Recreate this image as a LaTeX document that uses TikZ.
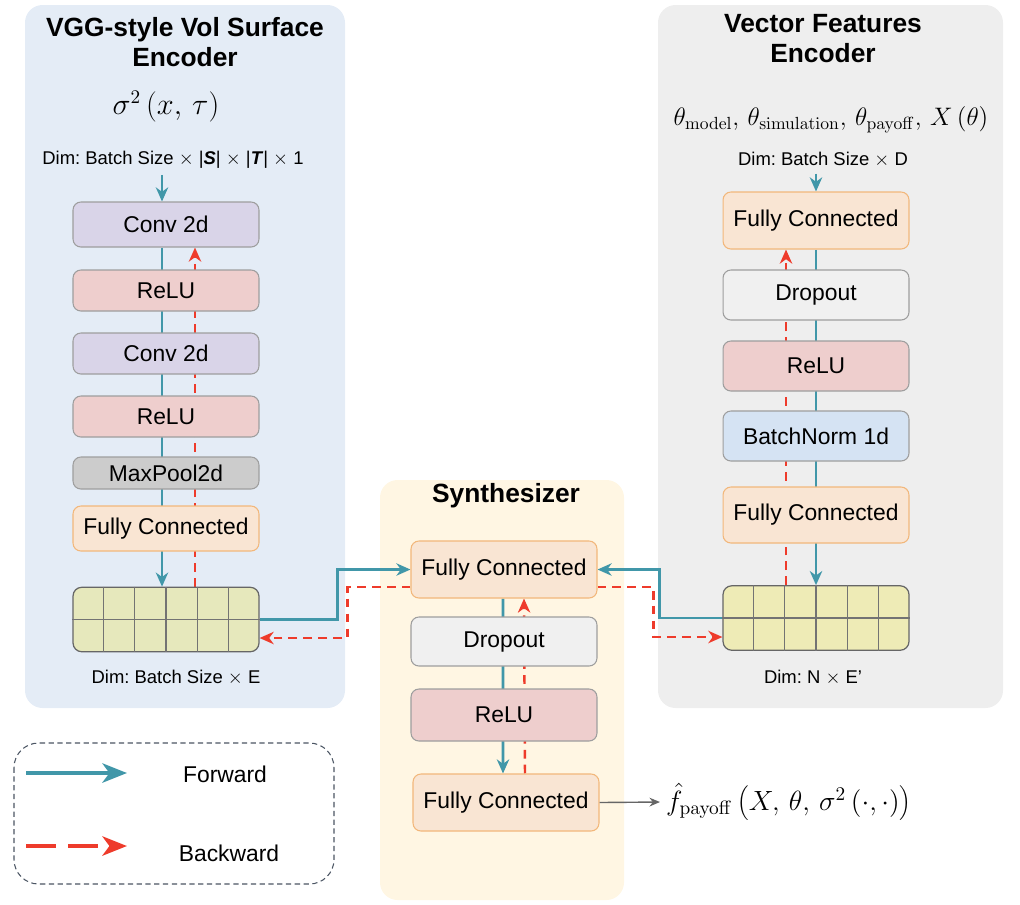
\documentclass[tikz,border=0pt]{standalone}
\usepackage[no-math]{fontspec}
\setmainfont{Liberation Sans}
\usetikzlibrary{arrows.meta, calc}
\frenchspacing

\definecolor{fwdcol}{HTML}{4197A9}
\definecolor{bwdcol}{HTML}{EE3B2B}
\definecolor{leftbg}{HTML}{E4ECF6}
\definecolor{rightbg}{HTML}{EEEEEE}
\definecolor{synthbg}{HTML}{FFF6E3}
\definecolor{convcol}{HTML}{D9D4E8}
\definecolor{relucol}{HTML}{EECECD}
\definecolor{poolcol}{HTML}{CCCCCC}
\definecolor{fccol}{HTML}{F9E5D3}
\definecolor{fcline}{HTML}{F2B77B}
\definecolor{dropcol}{HTML}{F0F0F0}
\definecolor{bncol}{HTML}{D5E3F3}
\definecolor{gridl}{HTML}{E6E8BC}
\definecolor{gridr}{HTML}{EEEBB6}
\definecolor{boxline}{HTML}{9E9E9E}
\definecolor{legline}{HTML}{4B5563}

\pgfdeclarelayer{panel}
\pgfdeclarelayer{wire}
\pgfsetlayers{panel,wire,main}

\tikzset{
    layer/.style={draw=boxline, line width=0.6pt, rounded corners=4.5pt, minimum width=3.72cm, inner sep=0pt, font=\fontsize{13}{15}\selectfont},
    conv/.style={layer, fill=convcol},
    relu/.style={layer, fill=relucol},
    pool/.style={layer, fill=poolcol},
    fc/.style={layer, fill=fccol, draw=fcline},
    drop/.style={layer, fill=dropcol},
    bnorm/.style={layer, fill=bncol},
    gridbox/.style={draw=black!60, line width=0.7pt, rounded corners=5pt, minimum width=3.72cm, minimum height=1.29cm},
    gridsep/.style={draw=black!55, line width=0.6pt},
    dimlabel/.style={font=\fontsize{10.5}{12}\selectfont},
    title/.style={font=\fontsize{15}{17.5}\selectfont\bfseries, align=center},
    fwd/.style={draw=fwdcol, line width=1.6pt, -{Stealth[length=8pt, width=7pt, inset=2.5pt]}},
    bwd/.style={draw=bwdcol, line width=1.4pt, dash pattern=on 5pt off 3.5pt, -{Stealth[length=8pt, width=7pt, inset=2.5pt]}},
}

\begin{document}
\begin{tikzpicture}[x=0.02cm, y=-0.02cm]
    \useasboundingbox (0,0) rectangle (1020,904);

    % panels
    \begin{pgfonlayer}{panel}
        \fill[leftbg, rounded corners=10pt] (25,5) rectangle (345,708);
        \fill[rightbg, rounded corners=10pt] (658,5) rectangle (1003,708);
        \fill[synthbg, rounded corners=10pt] (380,480) rectangle (624,900);
    \end{pgfonlayer}

    % vol surface encoder
    \node[title] (ltitle) at (185,42) {VGG-style Vol Surface\\Encoder};
    \node[font=\fontsize{16}{18}\selectfont] (sig) at (166,107) {$\sigma^{2}\left(x,\,\tau\right)$};
    \node[dimlabel] (ldim) at (173,160) {Dim: Batch Size $\times$ |\textbf{\textit{S}}| $\times$ |\textbf{\textit{T}}| $\times$ 1};

    \node[conv, minimum height=0.9cm] (conv1) at (166,224.5) {Conv 2d};
    \node[relu, minimum height=0.82cm] (relu1) at (166,290.5) {ReLU};
    \node[conv, minimum height=0.82cm] (conv2) at (166,353.5) {Conv 2d};
    \node[relu, minimum height=0.82cm] (relu2) at (166,416.5) {ReLU};
    \node[pool, minimum height=0.64cm] (pool) at (166,473) {MaxPool2d};
    \node[fc, minimum height=0.9cm] (lfc) at (166,528.5) {Fully Connected};
    \node[gridbox, fill=gridl] (lgrid) at (166,619.5) {};
    \node[dimlabel] (ldimout) at (176,678) {Dim: Batch Size $\times$ E};

    % vector features encoder
    \node[title] (rtitle) at (823,38.5) {Vector Features\\Encoder};
    \node[font=\fontsize{14.4}{17}\selectfont] (theta) at (831,120) {$\theta_{\mathrm{model}},\,\theta_{\mathrm{simulation}},\,\theta_{\mathrm{payoff}},\,X\left(\theta\right)$};
    \node[dimlabel] (rdim) at (823,160) {Dim: Batch Size $\times$ D};

    \node[fc, minimum height=1.14cm] (rfc1) at (816,220.5) {Fully Connected};
    \node[drop, minimum height=1cm] (rdrop) at (816,295) {Dropout};
    \node[relu, minimum height=1cm] (rrelu) at (816,366) {ReLU};
    \node[bnorm, minimum height=1cm] (rbn) at (816,436) {BatchNorm 1d};
    \node[fc, minimum height=1.12cm] (rfc2) at (816,515) {Fully Connected};
    \node[gridbox, fill=gridr] (rgrid) at (816,618) {};
    \node[dimlabel] (rdimout) at (813,678) {Dim: N $\times$ E’};

    % synthesizer
    \node[title] (stitle) at (506,496) {Synthesizer};
    \node[fc, minimum height=1.14cm] (sfc1) at (504,569.5) {Fully Connected};
    \node[drop, minimum height=0.98cm] (sdrop) at (504,641.5) {Dropout};
    \node[relu, minimum height=1.04cm] (srelu) at (504,715) {ReLU};
    \node[fc, minimum height=1.14cm] (sfc2) at (506,802.5) {Fully Connected};
    \node[anchor=west, font=\fontsize{14.4}{17}\selectfont] (fout) at (660,802) {\scalebox{1.1}{$\hat{f}_{\mathrm{payoff}}\left(X,\,\theta,\,\sigma^{2}\left(\cdot,\cdot\right)\right)$}};

    % grid cells
    \foreach \g in {lgrid, rgrid} {
        \foreach \i in {1,...,5}
            \draw[gridsep] ($(\g.north west)!\i/6!(\g.north east)$) -- ($(\g.south west)!\i/6!(\g.south east)$);
        \draw[gridsep] (\g.west) -- (\g.east);
    }

    % forward and backward flow
    \begin{pgfonlayer}{wire}
        \draw[fwd] ([xshift=-0.08cm]conv1.north |- ldim.south) -- ([xshift=-0.08cm]conv1.north);
        \draw[fwd] ([xshift=-0.08cm]conv1.south) -- ([xshift=-0.08cm]lgrid.north);
        \draw[bwd] ([xshift=0.58cm]lgrid.north) -- ([xshift=0.58cm]conv1.south);

        \draw[fwd] (rfc1.north |- rdim.south) -- (rfc1.north);
        \draw[fwd] (rfc1.south) -- (rgrid.north);
        \draw[bwd] ([xshift=-0.6cm]rgrid.north) -- ([xshift=-0.6cm]rfc1.south);

        \draw[fwd] ([xshift=-0.02cm]sfc1.south) -- ([xshift=-0.06cm]sfc2.north);
        \draw[bwd] ([xshift=0.38cm]sfc2.north) -- ([xshift=0.4cm]sfc1.south);

        \draw[fwd] (lgrid.east) -- ++(78,0) |- (sfc1.west);
        \draw[bwd] ([yshift=-0.35cm]sfc1.west) -- ++(-63,0) |- ([yshift=-0.37cm]lgrid.east);
        \draw[fwd] (rgrid.west) -- ++(-63,0) |- (sfc1.east);
        \draw[bwd] ([yshift=-0.35cm]sfc1.east) -- ++(56,0) |- ([yshift=-0.38cm]rgrid.west);
    \end{pgfonlayer}

    \draw[black!60, line width=0.8pt, -{Stealth[length=6pt, width=5pt]}] (sfc2.east) -- (fout.west);

    % legend
    \draw[legline, line width=0.6pt, dash pattern=on 3pt off 2pt, rounded corners=14pt] (14,743) rectangle (334,884);
    \coordinate (fwda) at (26,773);
    \coordinate (fwdb) at (127,773);
    \coordinate (bwda) at (26,846);
    \coordinate (bwdb) at (127,846);
    \draw[fwdcol, line width=2.2pt, -{Stealth[length=14pt, width=11pt, inset=4pt]}] (fwda) -- (fwdb);
    \draw[bwdcol, line width=2.2pt, dash pattern=on 17pt off 7pt, -{Stealth[length=14pt, width=11pt, inset=4pt]}] (bwda) -- (bwdb);
    \node[font=\fontsize{13}{15}\selectfont] (lgfwd) at (225,774) {Forward};
    \node[font=\fontsize{13}{15}\selectfont] (lgbwd) at (229,853) {Backward};
\end{tikzpicture}
\end{document}
